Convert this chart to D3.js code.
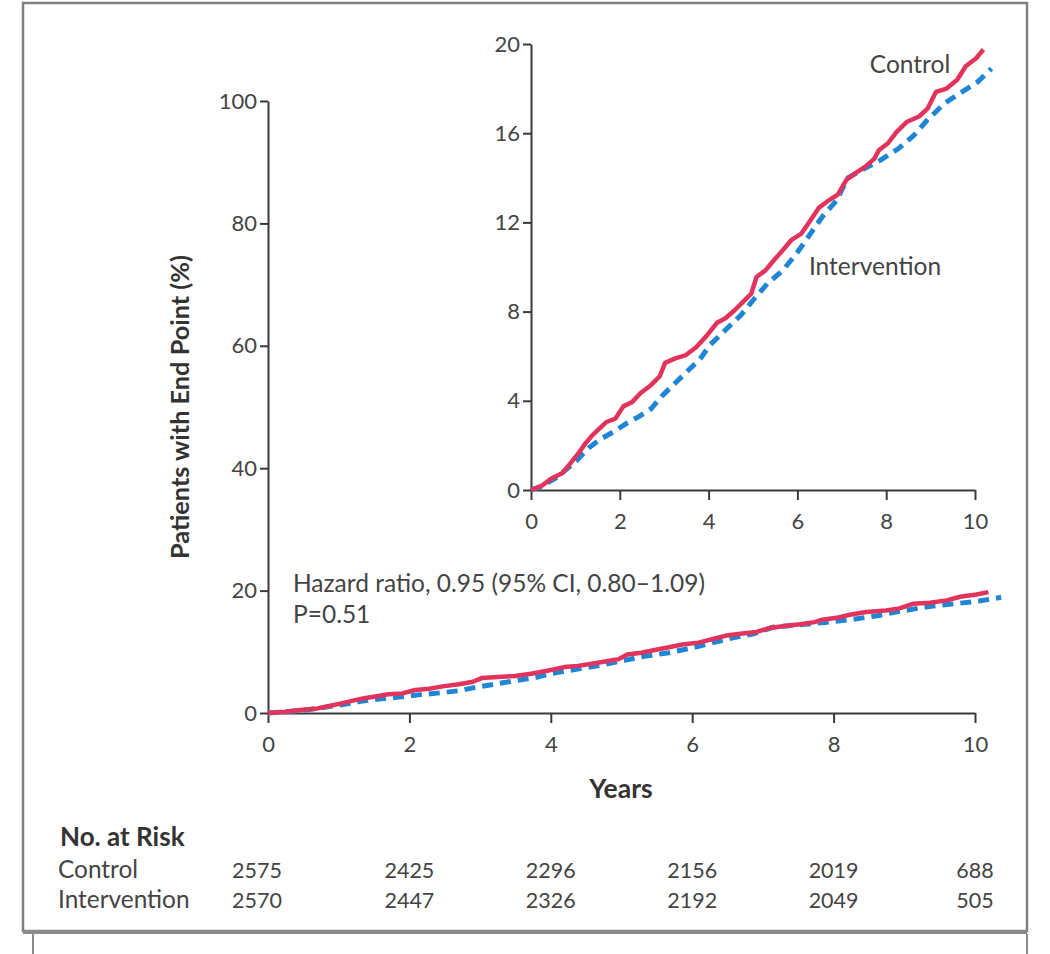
<!DOCTYPE html>
<html><head><meta charset="utf-8">
<script src="https://cdn.jsdelivr.net/npm/d3@7"></script>
<style>
body{margin:0;background:#fff;}
svg{display:block;font-family:Lato,"Open Sans",sans-serif;}
</style></head><body>
<svg id="c" width="1050" height="954"></svg>
<script>
// ---- data ----
const controlYears = [0,0.25,0.45,0.7,0.85,1.07,1.23,1.38,1.54,1.7,1.9,2.08,2.28,2.47,2.7,2.9,3.02,3.25,3.49,3.72,3.95,4.19,4.38,4.58,4.81,4.96,5.08,5.28,5.47,5.67,5.86,6.09,6.28,6.48,6.68,6.91,7.1,7.3,7.53,7.73,7.84,8.04,8.23,8.46,8.74,8.93,9.12,9.36,9.6,9.79,10.02,10.19];
const controlPct   = [0,0.2,0.5,0.75,1.1,1.65,2.1,2.45,2.75,3.05,3.2,3.75,3.95,4.35,4.7,5.1,5.7,5.9,6.05,6.4,6.9,7.5,7.7,8.05,8.5,8.8,9.55,9.85,10.3,10.75,11.2,11.5,12.05,12.65,12.95,13.25,13.9,14.2,14.5,14.85,15.25,15.55,16.05,16.5,16.75,17.1,17.85,18.0,18.4,19.0,19.35,19.75];
const interventionYears = [0,0.22,0.61,0.84,1.04,1.31,1.54,1.85,2.16,2.44,2.71,2.94,3.25,3.56,3.8,4.03,4.42,4.73,5.04,5.32,5.67,5.98,6.28,6.56,6.87,7.14,7.45,7.88,8.27,8.62,8.93,9.32,9.71,10.06,10.37];
const interventionPct   = [0,0.15,0.6,1.0,1.35,1.9,2.25,2.6,3.0,3.3,3.65,4.2,4.8,5.4,5.85,6.5,7.25,7.85,8.6,9.25,9.85,10.6,11.45,12.25,12.95,14.0,14.35,14.8,15.3,15.9,16.6,17.35,17.85,18.3,18.9];
const xTicks = [0,2,4,6,8,10];
const mainYTicks = [0,20,40,60,80,100];
const insetYTicks = [0,4,8,12,16,20];
const riskGroups = ["Control","Intervention"];
const riskControl = [2575,2425,2296,2156,2019,688];
const riskIntervention = [2570,2447,2326,2192,2049,505];
const hazardText = ["Hazard ratio, 0.95 (95% CI, 0.80\u20131.09)","P=0.51"];

const RED = "#e2335c", BLUE = "#1f86d6", AX = "#3a3a3a", TXT = "#444";
const svg = d3.select("#c");

// frame
svg.append("rect").attr("x",23).attr("y",3).attr("width",1004).attr("height",928)
  .attr("fill","none").attr("stroke","#808080").attr("stroke-width",2.5);
svg.append("line").attr("x1",23).attr("x2",1027).attr("y1",932).attr("y2",932).attr("stroke","#8a8a8a").attr("stroke-width",4);
svg.append("line").attr("x1",33).attr("x2",33).attr("y1",934).attr("y2",954).attr("stroke","#8a8a8a").attr("stroke-width",2);
svg.append("line").attr("x1",1027).attr("x2",1027).attr("y1",934).attr("y2",954).attr("stroke","#8a8a8a").attr("stroke-width",2);

const cdata = controlYears.map((t,i)=>({t, v:controlPct[i]}));
const idata = interventionYears.map((t,i)=>({t, v:interventionPct[i]}));

function panel(x, y, yTicks, xr, yr){
  const g = svg.append("g");
  const line = d3.line().x(d=>x(d.t)).y(d=>y(d.v)).curve(d3.curveLinear);
  const ya = g.append("g").attr("transform",`translate(${xr[0]},0)`)
    .call(d3.axisLeft(y).tickValues(yTicks).tickSize(8).tickSizeOuter(0).tickPadding(3));
  const xa = g.append("g").attr("transform",`translate(0,${yr[0]})`)
    .call(d3.axisBottom(x).tickValues(xTicks).tickSize(10).tickSizeOuter(0).tickPadding(13));
  [ya,xa].forEach(a=>{
    a.selectAll("path,line").attr("stroke",AX).attr("stroke-width",2);
    a.selectAll("text").attr("fill",TXT).attr("font-size",22).attr("font-family","Lato");
  });
  g.append("path").datum(idata).attr("d",line).attr("fill","none")
    .attr("stroke",BLUE).attr("stroke-width",5).attr("stroke-dasharray","11,7");
  g.append("path").datum(cdata).attr("d",line).attr("fill","none")
    .attr("stroke",RED).attr("stroke-width",4.5).attr("stroke-linejoin","round");
  return g;
}

// main chart
const xM = d3.scaleLinear().domain([0,10]).range([268,975]);
const yM = d3.scaleLinear().domain([0,100]).range([713,101]);
panel(xM, yM, mainYTicks, [268,975], [713,101]);

// inset
const xI = d3.scaleLinear().domain([0,10]).range([531,975]);
const yI = d3.scaleLinear().domain([0,20]).range([490,44]);
const gi = panel(xI, yI, insetYTicks, [531,975], [490,44]);
gi.append("text").attr("x",910).attr("y",73).attr("text-anchor","middle")
  .attr("font-size",24.5).attr("fill",TXT).text("Control");
gi.append("text").attr("x",875).attr("y",275).attr("text-anchor","middle")
  .attr("font-size",24.5).attr("fill",TXT).text("Intervention");

// labels
svg.append("text").attr("transform","translate(189,407) rotate(-90)").attr("text-anchor","middle")
  .attr("font-size",25.3).attr("font-weight","bold").attr("fill","#333").text("Patients with End Point (%)");
svg.append("text").attr("x",621).attr("y",798).attr("text-anchor","middle")
  .attr("font-size",26.5).attr("font-weight","bold").attr("fill","#333").text("Years");
svg.selectAll(".hz").data(hazardText).join("text").attr("class","hz")
  .attr("x",293).attr("y",(d,i)=>592+i*31).attr("font-size",24.5).attr("fill",TXT).text(d=>d);

// risk table
svg.append("text").attr("x",60).attr("y",846).attr("font-size",26).attr("font-weight","bold").attr("fill","#333").text("No. at Risk");
const rows = [riskControl, riskIntervention];
riskGroups.forEach((name,r)=>{
  const yy = 878 + r*30;
  svg.append("text").attr("x",58).attr("y",yy).attr("font-size",24.4).attr("fill",TXT).text(name);
  svg.selectAll(".r"+r).data(rows[r]).join("text").attr("class","r"+r)
    .attr("x",(d,i)=>xM(xTicks[i]) - (i===0?11:0)).attr("y",yy).attr("text-anchor","middle")
    .attr("font-size",21.5).attr("fill",TXT).text(d=>d);
});
</script></body></html>
